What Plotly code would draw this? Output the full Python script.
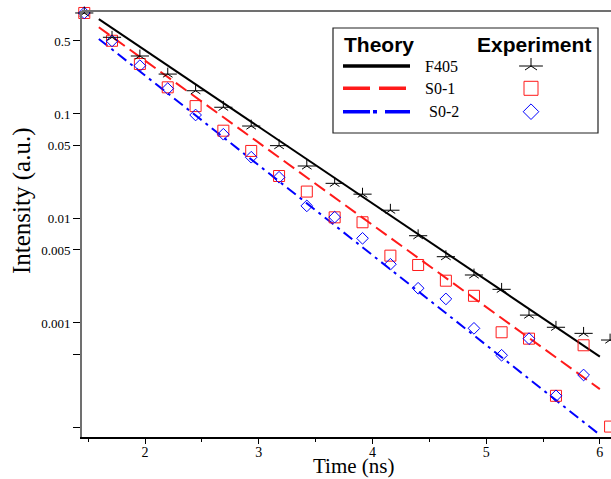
import plotly.graph_objects as go

# ---------------- data ----------------
t_exp = [1.466, 1.710, 1.955, 2.200, 2.445, 2.689, 2.934, 3.179, 3.423, 3.668,
         3.913, 4.158, 4.402, 4.646, 4.893, 5.136, 5.377, 5.614, 5.857, 6.090]
f405_exp = [0.926, 0.542, 0.359, 0.241, 0.167, 0.116, 0.0767, 0.0498, 0.0318, 0.0217,
            0.0171, 0.0120, 0.00684, 0.00431, 0.00288, 0.00210, 0.00119, 0.000910, 0.000796, 0.000687]
s01_exp = [0.926, 0.502, 0.301, 0.180, 0.119, 0.0692, 0.0443, 0.0255, 0.0181, 0.01026,
           0.00920, 0.00441, 0.00359, 0.00254, 0.00182, 0.000815, 0.000708, 0.000201, 0.000612, 0.000102]
s02_exp = [0.926, 0.500, 0.290, 0.175, 0.0978, 0.0640, 0.0386, 0.0248, 0.0132, 0.0103,
           0.00646, 0.00365, 0.00215, 0.00170, 0.000889, 0.000491, 0.000708, 0.000201, 0.000318, None]

t_fit = [1.594, 6.0]
f405_fit = [0.81, 0.000477]
s01_fit = [0.676, 0.000233]
s02_fit = [0.523, 0.000085]

y_tickvals = [0.5, 0.1, 0.05, 0.01, 0.005, 0.001, 0.0005, 0.0001]
y_ticktext = ["0.5", "0.1", "0.05", "0.01", "0.005", "0.001", "", ""]
x_tickvals = [2, 3, 4, 5, 6]

series_names = ["F405", "S0-1", "S0-2"]

BLACK = "#000000"
RED = "#ff1a1a"
BLUE = "#0000ff"
SERIF = "Liberation Serif, Times New Roman, serif"
SANS = "Liberation Sans, Arial, sans-serif"

fig = go.Figure()

# theory lines
fig.add_trace(go.Scatter(x=t_fit, y=f405_fit, mode="lines",
                         line=dict(color=BLACK, width=2), showlegend=False))
fig.add_trace(go.Scatter(x=t_fit, y=s01_fit, mode="lines",
                         line=dict(color=RED, width=2, dash="13px,6px"), showlegend=False))
fig.add_trace(go.Scatter(x=t_fit, y=s02_fit, mode="lines",
                         line=dict(color=BLUE, width=2, dash="11px,5px,3px,5px"), showlegend=False))

# experiment markers
fig.add_trace(go.Scatter(x=t_exp, y=s01_exp, mode="markers", cliponaxis=False,
                         marker=dict(symbol="square-open", size=11, color=RED, line=dict(width=1, color=RED)),
                         showlegend=False))
fig.add_trace(go.Scatter(x=t_exp, y=s02_exp, mode="markers", cliponaxis=False,
                         marker=dict(symbol="diamond-open", size=9, color=BLUE, line=dict(width=1, color=BLUE)),
                         showlegend=False))
# five-armed star = y-up + horizontal line
fig.add_trace(go.Scatter(x=t_exp, y=f405_exp, mode="markers", cliponaxis=False,
                         marker=dict(symbol="y-up-open", size=8, color=BLACK, line=dict(width=1, color=BLACK)),
                         showlegend=False))
fig.add_trace(go.Scatter(x=t_exp, y=f405_exp, mode="markers", cliponaxis=False,
                         marker=dict(symbol="line-ew-open", size=13, color=BLACK, line=dict(width=1, color=BLACK)),
                         showlegend=False))

# ---------- custom legend (overlay axes in 0..1 plot-area coordinates) ----------
L = 82.0
R = 611.0
T = 11.0
B = 437.0
W = R - L
H = B - T


def px(x):
    return (x - L) / W


def py(y):
    return (B - y) / H


leg_x0, leg_x1 = px(343), px(410)
leg_rows = [py(66), py(88.3), py(111.7)]
leg_styles = [dict(color=BLACK, width=3.5),
              dict(color=RED, width=3.5, dash="27px,9px"),
              dict(color=BLUE, width=3.5, dash="27px,3px,4px,8px")]
for yy, st in zip(leg_rows, leg_styles):
    fig.add_trace(go.Scatter(x=[leg_x0, leg_x1], y=[yy, yy], mode="lines", line=st,
                             xaxis="x2", yaxis="y2", showlegend=False))

mx = px(531)
fig.add_trace(go.Scatter(x=[mx], y=[leg_rows[0]], mode="markers", xaxis="x2", yaxis="y2",
                         marker=dict(symbol="y-up-open", size=10, color=BLACK, line=dict(width=1, color=BLACK)),
                         showlegend=False))
fig.add_trace(go.Scatter(x=[mx], y=[leg_rows[0]], mode="markers", xaxis="x2", yaxis="y2",
                         marker=dict(symbol="line-ew-open", size=17, color=BLACK, line=dict(width=1, color=BLACK)),
                         showlegend=False))
fig.add_trace(go.Scatter(x=[mx], y=[leg_rows[1]], mode="markers", xaxis="x2", yaxis="y2",
                         marker=dict(symbol="square-open", size=14, color=RED, line=dict(width=1, color=RED)),
                         showlegend=False))
fig.add_trace(go.Scatter(x=[mx], y=[leg_rows[2]], mode="markers", xaxis="x2", yaxis="y2",
                         marker=dict(symbol="diamond-open", size=12, color=BLUE, line=dict(width=1, color=BLUE)),
                         showlegend=False))

annotations = [
    dict(text="<b>Theory</b>", x=px(379), y=py(44), font=dict(family=SANS, size=21, color=BLACK)),
    dict(text="<b>Experiment</b>", x=px(534), y=py(44), font=dict(family=SANS, size=21, color=BLACK)),
]
for name, yy, xl in zip(series_names, leg_rows, [423, 423, 427]):
    annotations.append(dict(text=name, x=px(xl), y=yy, xanchor="left",
                            font=dict(family=SERIF, size=16, color=BLACK)))
for a in annotations:
    a.update(xref="x2", yref="y2", showarrow=False)
    a.setdefault("xanchor", "center")
    a.setdefault("yanchor", "middle")

# axis titles
annotations.append(dict(text="Time (ns)", xref="paper", yref="paper", x=px(354), y=py(479),
                        showarrow=False, xanchor="center", yanchor="bottom", borderpad=0,
                        font=dict(family=SERIF, size=21, color=BLACK)))
annotations.append(dict(text="Intensity (a.u.)", xref="paper", yref="paper", x=px(22), y=py(201),
                        showarrow=False, xanchor="center", yanchor="middle", textangle=-90,
                        font=dict(family=SERIF, size=25, color=BLACK)))

shapes = [
    dict(type="rect", xref="x2", yref="y2", x0=px(333), x1=px(598), y0=py(133), y1=py(28),
         line=dict(color="#222222", width=1.2), fillcolor="rgba(0,0,0,0)", layer="above"),
    dict(type="line", xref="paper", yref="paper", x0=0, x1=1, y0=1, y1=1,
         line=dict(color="#707070", width=2), layer="above"),
]

fig.update_layout(
    width=611, height=479,
    margin=dict(l=82, r=0, t=11, b=42),
    paper_bgcolor="white", plot_bgcolor="white",
    showlegend=False,
    annotations=annotations,
    shapes=shapes,
    xaxis=dict(range=[1.446, 6.098], showgrid=False, zeroline=False,
               showline=True, linecolor=BLACK, linewidth=1.5,
               tickmode="array", tickvals=x_tickvals,
               ticks="outside", ticklen=5, tickwidth=1, tickcolor=BLACK,
               ticklabelstandoff=-4,
               minor=dict(tickmode="linear", tick0=1.5, dtick=0.5, ticks="outside",
                          ticklen=3, tickwidth=1, tickcolor=BLACK),
               tickfont=dict(family=SERIF, size=14, color=BLACK)),
    yaxis=dict(type="log", range=[-4.091, -0.0144], showgrid=False, zeroline=False,
               showline=True, linecolor="#707070", linewidth=2,
               tickmode="array", tickvals=y_tickvals, ticktext=y_ticktext,
               ticks="outside", ticklen=7, tickwidth=1, tickcolor=BLACK,
               tickfont=dict(family=SERIF, size=13, color=BLACK)),
    xaxis2=dict(overlaying="x", range=[0, 1], visible=False, fixedrange=True),
    yaxis2=dict(overlaying="y", range=[0, 1], visible=False, fixedrange=True),
)

fig.write_html("out.html", config={"displayModeBar": False},
               post_script="document.body.style.margin='0';")
